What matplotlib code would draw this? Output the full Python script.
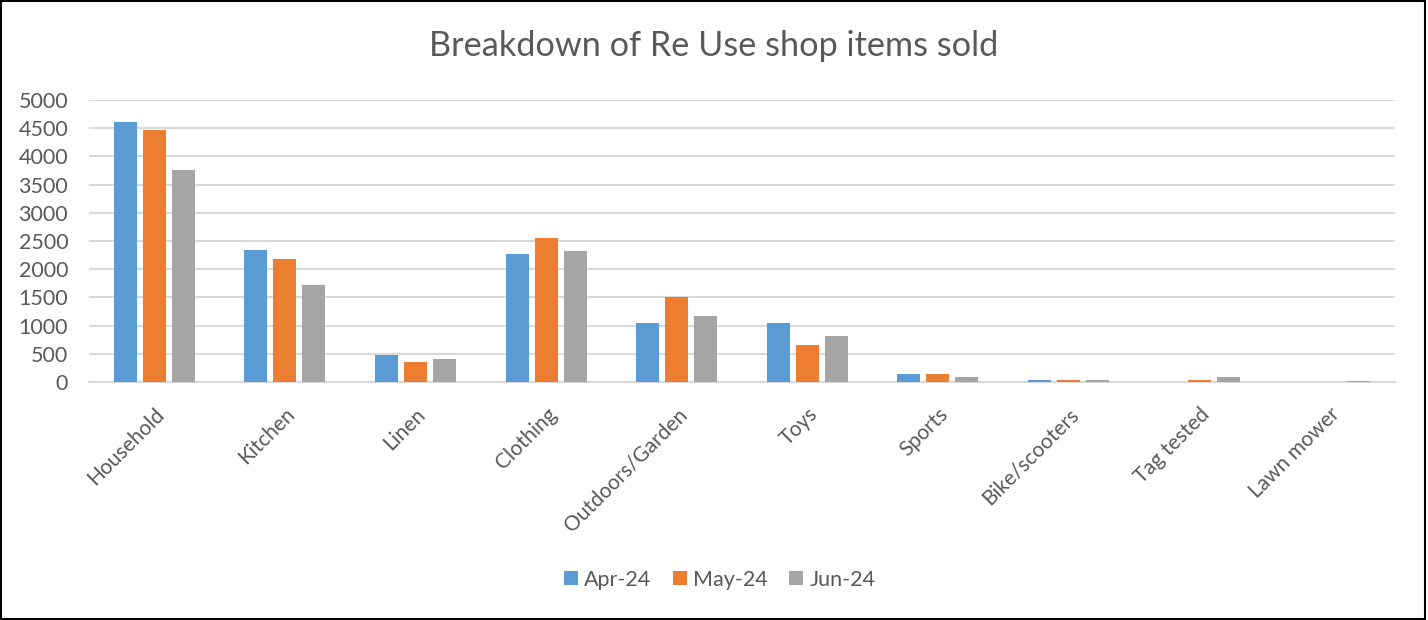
import matplotlib
matplotlib.use('Agg')
import matplotlib.pyplot as plt
import numpy as np

plt.rcParams['font.family'] = ['Lato', 'DejaVu Sans']

categories = ['Household', 'Kitchen', 'Linen', 'Clothing', 'Outdoors/Garden',
              'Toys', 'Sports', 'Bike/scooters', 'Tag tested', 'Lawn mower']
months = ['Apr-24', 'May-24', 'Jun-24']
apr_24 = [4616, 2338, 471, 2272, 1045, 1045, 142, 41, 0, 0]
may_24 = [4469, 2178, 360, 2561, 1511, 661, 147, 35, 35, 0]
jun_24 = [3766, 1723, 407, 2320, 1169, 820, 94, 30, 94, 12]
yticks = np.arange(0, 5001, 500)

colors = ['#5b9bd5', '#ed7d31', '#a5a5a5']
text_color = '#595959'
grid_color = '#d9d9d9'

fig = plt.figure(figsize=(14.28, 6.2), dpi=100)
ax = fig.add_axes([0.0623, 0.3839, 0.9147, 0.4548])

positions = np.arange(len(categories))
step = 0.222
for i, (label, values) in enumerate(zip(months, [apr_24, may_24, jun_24])):
    ax.bar(positions + (i - 1) * step, values, width=0.176,
           color=colors[i], label=label, zorder=3)

ax.set_xlim(-0.5, len(categories) - 0.5)
ax.set_ylim(0, 5000)
ax.set_yticks(yticks)
ax.set_yticklabels([str(t) for t in yticks], fontsize=15.5, color=text_color)
ax.set_xticks(positions)
ax.set_xticklabels(categories, fontsize=15, color=text_color,
                   rotation=45, ha='right', rotation_mode='anchor')
ax.tick_params(axis='y', length=0, pad=15)
ax.tick_params(axis='x', length=0, pad=16)

ax.grid(axis='y', color=grid_color, linewidth=1.5, zorder=0)
for side in ['top', 'right', 'left']:
    ax.spines[side].set_visible(False)
ax.spines['bottom'].set_color(grid_color)
ax.spines['bottom'].set_linewidth(1.5)

fig.text(0.5, 0.925, 'Breakdown of Re Use shop items sold', ha='center',
         va='center', fontsize=24.7, color=text_color)

leg = fig.legend(loc='center', bbox_to_anchor=(0.504, 0.065), ncol=3,
                 frameon=False, fontsize=15.5, handlelength=0.65,
                 handleheight=0.65, handletextpad=0.3, columnspacing=1.0)
for t in leg.get_texts():
    t.set_color(text_color)

# thin black frame around the whole chart
fig.patches.append(plt.Rectangle((0.001, 0.002), 0.997, 0.996,
                                 transform=fig.transFigure, fill=False,
                                 edgecolor='black', linewidth=1.5))

fig.savefig('out.png', dpi=100)
